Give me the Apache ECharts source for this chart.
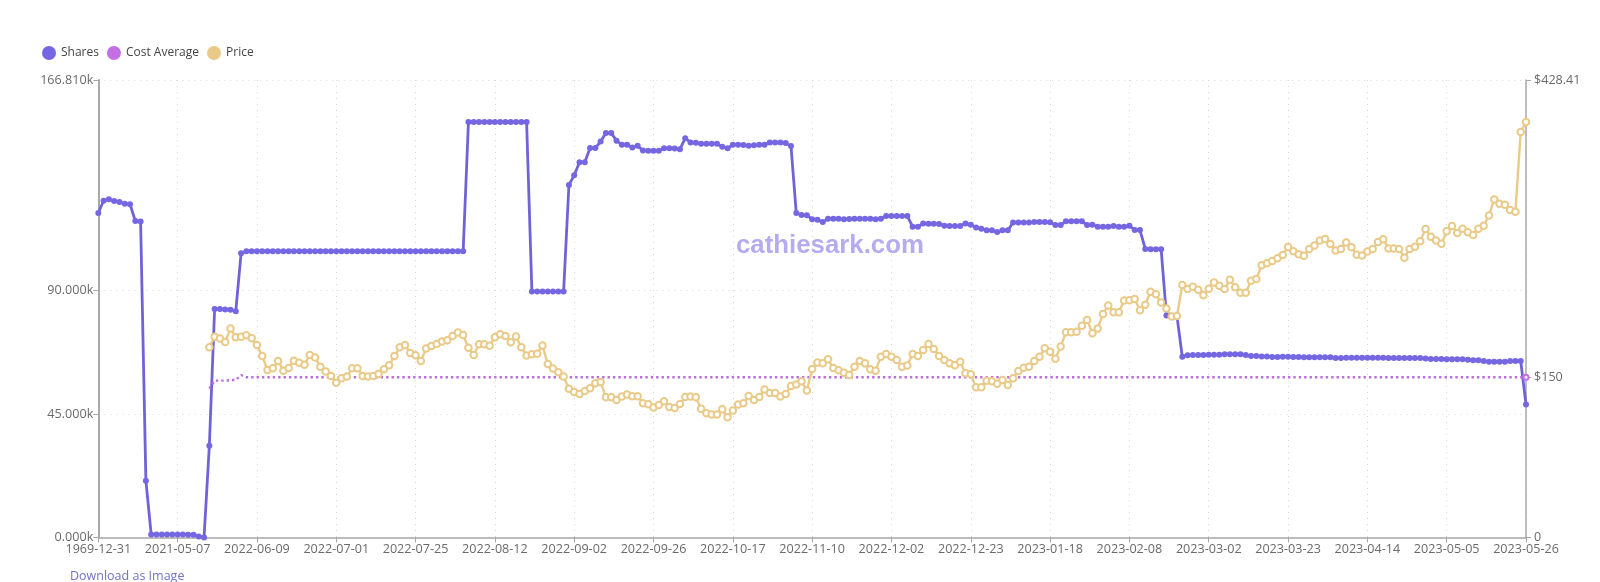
<!DOCTYPE html>
<html>
<head>
<meta charset="utf-8">
<title>cathiesark</title>
<script src="https://cdn.jsdelivr.net/npm/echarts@6/dist/echarts.min.js"></script>
<style>
  html, body { margin: 0; padding: 0; background: #fff; overflow: hidden; }
  #chart { width: 1600px; height: 582px; }
  #download { position: absolute; left: 70px; top: 567px; font: 12.5px "Open Sans", sans-serif; color: #7272c4; text-decoration: none; }
</style>
</head>
<body>
<div id="chart"></div>
<a id="download" href="#">Download as Image</a>
<script>
// every 15th point carries a label
const tickLabels = ['1969-12-31', '2021-05-07', '2022-06-09', '2022-07-01', '2022-07-25', '2022-08-12', '2022-09-02',
  '2022-09-26', '2022-10-17', '2022-11-10', '2022-12-02', '2022-12-23', '2023-01-18', '2023-02-08', '2023-03-02',
  '2023-03-23', '2023-04-14', '2023-05-05', '2023-05-26']

// thousands of shares
const shares = [
  118.3, 122.8, 123.3, 122.7, 122.3, 121.7, 121.5, 115.4, 115.2, 20.7,
  1.1, 1.1, 1.1, 1.1, 1.1, 1.1, 1.1, 1.0, 1.0, 0.3,
  0.0, 33.4, 83.3, 83.3, 83.1, 83.0, 82.5, 103.6, 104.4, 104.4,
  104.4, 104.4, 104.4, 104.4, 104.4, 104.4, 104.4, 104.4, 104.4, 104.4,
  104.4, 104.4, 104.4, 104.4, 104.4, 104.4, 104.4, 104.4, 104.4, 104.4,
  104.4, 104.4, 104.4, 104.4, 104.4, 104.4, 104.4, 104.4, 104.4, 104.4,
  104.4, 104.4, 104.4, 104.4, 104.4, 104.4, 104.4, 104.4, 104.4, 104.4,
  151.5, 151.5, 151.5, 151.5, 151.5, 151.5, 151.5, 151.5, 151.5, 151.5,
  151.5, 151.5, 89.7, 89.7, 89.7, 89.7, 89.7, 89.7, 89.7, 128.5,
  132.1, 136.8, 136.8, 142.0, 142.0, 144.4, 147.5, 147.5, 144.7, 143.2,
  143.2, 142.2, 142.8, 141.1, 141.0, 141.0, 141.0, 141.9, 141.9, 141.8,
  141.6, 145.6, 144.0, 143.9, 143.6, 143.6, 143.6, 143.6, 142.5, 141.9,
  143.2, 143.2, 143.1, 142.8, 143.0, 143.2, 143.2, 144.0, 144.0, 144.0,
  143.8, 142.7, 118.3, 117.6, 117.5, 116.0, 115.8, 115.0, 116.2, 116.2,
  116.2, 116.0, 116.1, 116.2, 116.2, 116.2, 116.2, 116.0, 116.2, 117.2,
  117.2, 117.2, 117.2, 117.2, 113.3, 113.3, 114.5, 114.4, 114.4, 114.3,
  113.7, 113.6, 113.6, 113.6, 114.5, 114.0, 113.0, 112.6, 112.0, 112.0,
  111.4, 112.0, 112.0, 114.8, 114.8, 114.8, 114.8, 115.0, 115.0, 115.0,
  114.9, 113.9, 113.9, 115.3, 115.3, 115.3, 115.3, 113.9, 114.0, 113.3,
  113.3, 113.3, 113.6, 113.3, 113.3, 113.7, 112.1, 112.1, 105.2, 105.1,
  105.1, 105.1, 80.9, 80.8, 80.5, 65.9, 66.4, 66.5, 66.5, 66.5,
  66.6, 66.6, 66.6, 66.8, 66.8, 66.8, 66.8, 66.5, 66.2, 66.2,
  66.0, 66.0, 65.8, 65.8, 65.9, 65.9, 65.8, 65.8, 65.7, 65.7,
  65.7, 65.7, 65.7, 65.7, 65.4, 65.4, 65.5, 65.5, 65.5, 65.5,
  65.5, 65.5, 65.5, 65.5, 65.4, 65.4, 65.4, 65.4, 65.4, 65.4,
  65.4, 65.2, 65.1, 65.1, 65.1, 65.0, 65.0, 65.0, 65.0, 64.8,
  64.6, 64.6, 64.3, 64.1, 64.1, 64.1, 64.1, 64.3, 64.3, 64.3,
  48.5
]

// price and cost average start at point 21
const priceOffset = 21
const price = [
  178.1, 188.0, 186.4, 183.1, 195.6, 187.5, 188.0, 189.3, 186.5, 180.2,
  169.9, 156.8, 158.4, 165.2, 156.2, 158.6, 165.5, 163.6, 161.8, 170.9,
  168.6, 159.9, 155.5, 151.2, 144.9, 149.0, 150.6, 158.4, 158.4, 151.2,
  150.6, 151.2, 153.0, 157.5, 161.2, 169.9, 178.0, 180.2, 172.7, 170.5,
  165.2, 177.0, 179.2, 181.2, 183.6, 184.6, 188.6, 192.0, 189.6, 177.7,
  170.9, 180.9, 180.9, 179.6, 187.4, 190.2,
  188.7, 182.7, 188.1, 178.1, 170.3, 171.6, 171.9, 179.7, 162.4, 158.1,
  154.6, 150.6, 139.3, 136.2, 134.3, 137.2, 139.6, 144.3, 145.6, 131.2,
  131.2, 128.8, 131.9, 133.8, 132.2, 132.2, 125.6, 124.6, 121.6, 124.0,
  127.5, 122.2, 121.2, 125.0, 131.6, 131.9, 131.2, 120.6, 116.2, 115.0,
  115.0, 120.0, 112.5, 118.8, 124.4, 125.6, 132.5, 128.8, 131.6, 138.5,
  135.3, 135.3, 131.9, 134.3, 141.9, 143.2, 146.2, 137.5, 157.7, 163.7,
  163.1, 166.9, 158.7, 156.6, 154.3, 152.2,
  159.9, 165.3, 163.0, 157.5, 156.2, 169.3, 171.8, 169.3, 166.2, 159.9,
  160.9, 171.8, 169.9, 175.6, 181.2, 176.4, 169.9, 166.2, 163.0, 161.2,
  164.6, 153.7, 152.7, 140.6, 140.6, 146.8, 146.2, 143.8, 147.5, 142.8,
  149.0, 155.9, 159.0, 159.9, 165.3, 169.3, 177.1, 174.0, 167.4, 178.7,
  192.1, 192.1, 192.7, 198.3, 203.7, 191.2, 195.6, 209.3, 217.1, 210.8,
  210.8, 221.8, 222.1, 223.4, 212.7, 218.0, 230.1, 227.7, 219.9, 214.3,
  206.8, 207.4,
  236.4, 232.6, 234.8, 232.0, 226.7, 233.0, 238.8, 235.7, 232.6, 241.4,
  234.2, 229.2, 229.2, 240.4, 242.0, 254.8, 256.7, 258.8, 261.4, 264.5,
  272.0, 268.0, 265.1, 263.8, 270.1, 273.5, 278.0, 279.5, 274.8, 268.8,
  270.1, 276.1, 271.7, 264.8, 264.1, 267.7, 270.1, 276.7, 279.2, 270.7,
  270.7, 270.1, 262.0, 270.1, 272.3, 277.3, 288.8, 281.7, 278.0, 275.1,
  286.7, 291.7, 285.1, 289.1, 285.7, 283.2, 289.1, 292.0, 301.6, 316.6,
  312.6, 311.6, 306.6, 305.1, 379.7, 389.1
]
// the first points settle before the line goes flat at 150
const costStart = [139.3, 146.8, 146.8, 146.8, 147.4, 147.4, 152.1]
const costFlat = 150
const sharesTicks = [0, 45, 90, 166.81]
const priceTicks = [0, 150, 428.41]

const categories = shares.map((v, i) => (i % 15 === 0 ? tickLabels[i / 15] : ''))
const pad = new Array(priceOffset).fill(null)
const priceData = pad.concat(price)
const costData = pad.concat(price.map((v, i) => (i < costStart.length ? costStart[i] : costFlat)))

const font = '"Open Sans", sans-serif'
const axisColor = '#a8a8a8'
const textColor = '#6a6a6a'
const gridLine = { color: '#d6d6d6', type: [1, 5] }

let option = {
  animation: false,
  textStyle: { fontFamily: font },
  legend: {
    left: 37,
    top: 41,
    icon: 'circle',
    itemWidth: 14,
    itemHeight: 14,
    itemGap: 8,
    textStyle: { color: '#444', fontSize: 12, fontFamily: font, padding: [0, 0, 0, 0] },
    data: ['Shares', 'Cost Average', 'Price']
  },
  grid: { left: 98.3, right: 74, top: 80, bottom: 44.6 },
  graphic: [{
    type: 'text',
    left: 736,
    top: 233,
    silent: true,
    style: { text: 'cathiesark.com', fill: '#b7abf0', font: 'bold 25.8px "Liberation Sans", Arial, sans-serif' }
  }],
  xAxis: {
    type: 'category',
    boundaryGap: false,
    data: categories,
    axisLine: { lineStyle: { color: axisColor, width: 1.5 } },
    axisTick: { interval: 14, length: 5, lineStyle: { color: axisColor } },
    axisLabel: { interval: 14, color: textColor, fontSize: 12.6, margin: 6, showMaxLabel: true, hideOverlap: false },
    splitLine: { show: true, interval: 14, lineStyle: gridLine }
  },
  yAxis: [
    {
      type: 'value',
      min: 0,
      max: 166.81,
      axisLine: { show: true, lineStyle: { color: axisColor, width: 2 } },
      axisTick: { show: true, length: 5, customValues: sharesTicks, lineStyle: { color: axisColor } },
      axisLabel: {
        customValues: sharesTicks,
        color: textColor,
        fontSize: 12.6,
        margin: 5,
        formatter: v => v.toFixed(3) + 'k'
      },
      splitLine: { show: true, lineStyle: gridLine }
    },
    {
      type: 'value',
      position: 'right',
      min: 0,
      max: 428.41,
      axisLine: { show: true, lineStyle: { color: axisColor, width: 1.5 } },
      axisTick: { show: true, length: 5, customValues: priceTicks, lineStyle: { color: axisColor } },
      axisLabel: {
        customValues: priceTicks,
        color: textColor,
        fontSize: 12.6,
        margin: 8,
        formatter: v => (v === 0 ? '0' : '$' + v)
      },
      splitLine: { show: false }
    }
  ],
  series: [
    {
      name: 'Shares',
      type: 'line',
      yAxisIndex: 0,
      data: shares,
      showAllSymbol: true,
      symbol: 'circle',
      symbolSize: 6,
      itemStyle: { color: '#7566e2' },
      lineStyle: { color: '#7063d8', width: 2.8 }
    },
    {
      name: 'Cost Average',
      type: 'line',
      yAxisIndex: 1,
      data: costData,
      showAllSymbol: true,
      symbol: (v, p) => (p.dataIndex === costData.length - 1 ? 'emptyCircle' : 'none'),
      symbolSize: 5,
      itemStyle: { color: '#c46fe4' },
      lineStyle: { color: '#b96ed8', width: 2.4, type: [2.4, 3] }
    },
    {
      name: 'Price',
      type: 'line',
      yAxisIndex: 1,
      data: priceData,
      showAllSymbol: true,
      symbol: 'emptyCircle',
      symbolSize: 6.5,
      itemStyle: { color: '#e9ca88', borderWidth: 2.6 },
      lineStyle: { color: '#e9ca88', width: 2.4 }
    }
  ]
}

const chart = echarts.init(document.getElementById('chart'), null, { renderer: 'canvas' })
chart.setOption(option)
</script>
</body>
</html>
